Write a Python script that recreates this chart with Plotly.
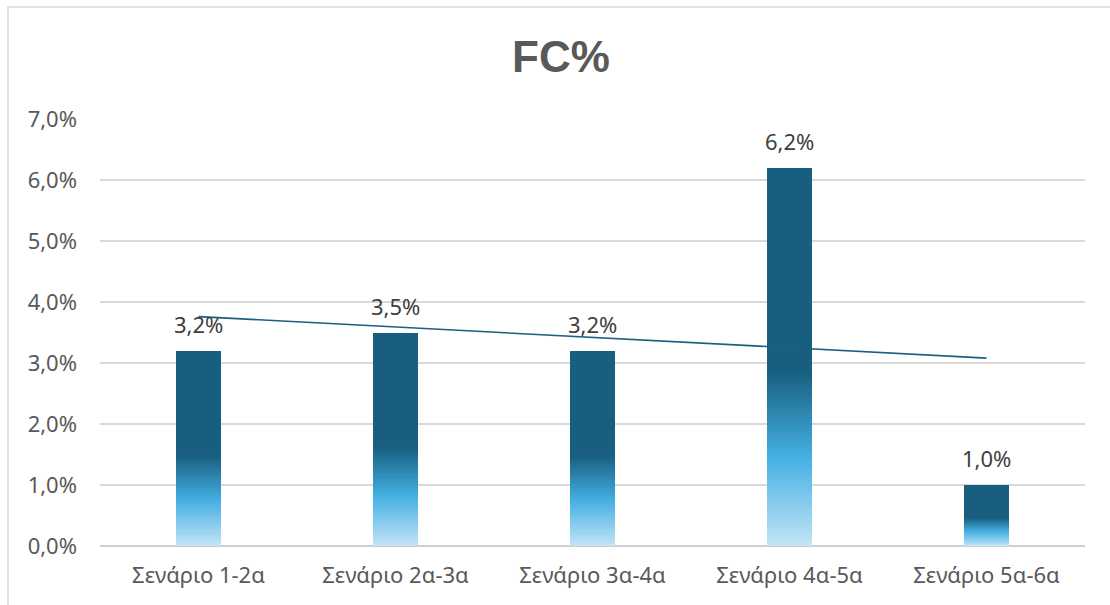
import numpy as np
import plotly.graph_objects as go

# Chart data
categories = ["Σενάριο 1-2α", "Σενάριο 2α-3α", "Σενάριο 3α-4α", "Σενάριο 4α-5α", "Σενάριο 5α-6α"]
fc_values = [3.2, 3.5, 3.2, 6.2, 1.0]          # FC in percent
value_labels = ["3,2%", "3,5%", "3,2%", "6,2%", "1,0%"]
y_ticks = [0, 1, 2, 3, 4, 5, 6, 7]
y_tick_labels = ["0,0%", "1,0%", "2,0%", "3,0%", "4,0%", "5,0%", "6,0%", "7,0%"]

W, H = 1110, 605
L, R, T, B = 100, 25, 119, 59
FONT = "Noto Sans, Arial, sans-serif"

# Vertical gradient stops (fraction of bar height -> colour)
stops = [(0.0, (197, 230, 247)), (0.24, (68, 175, 226)), (0.47, (23, 94, 127)), (1.0, (23, 94, 127))]


def grad_color(f):
    for (f0, c0), (f1, c1) in zip(stops[:-1], stops[1:]):
        if f0 <= f <= f1:
            t = (f - f0) / (f1 - f0) if f1 > f0 else 0
            c = [round(a + (b - a) * t) for a, b in zip(c0, c1)]
            return f"rgb({c[0]},{c[1]},{c[2]})"
    c = stops[-1][1]
    return f"rgb({c[0]},{c[1]},{c[2]})"


fig = go.Figure()

# Gradient bars: overlaid bars of decreasing height, each in the colour of its top
levels = [1.0] + [round(x, 3) for x in np.arange(0.48, 0.0, -0.008)]
vals = np.array(fc_values)
for f in levels:
    fig.add_trace(go.Bar(
        x=categories, y=vals * f, width=0.23,
        marker=dict(color=grad_color(f), line=dict(width=0)),
        hoverinfo="skip", showlegend=False,
    ))

# Linear trend line
idx = np.arange(1, len(fc_values) + 1)
slope, intercept = np.polyfit(idx, vals, 1)
trend = slope * idx + intercept
fig.add_trace(go.Scatter(
    x=categories, y=trend, mode="lines",
    line=dict(color="#1B5F80", width=1.6),
    hoverinfo="skip", showlegend=False,
))

# Value labels above bars
for c, v, lab in zip(categories, fc_values, value_labels):
    fig.add_annotation(x=c, y=v, text=lab, showarrow=False, yanchor="bottom", yshift=10,
                       font=dict(family=FONT, size=22, color="#404040"))

# Chart border (left and top edges visible)
fig.add_shape(type="rect", xref="paper", yref="paper",
              x0=(8 - L) / (W - L - R), x1=(W + 20 - L) / (W - L - R),
              y0=(H - B - 640) / (H - T - B), y1=(H - B - 7) / (H - T - B),
              line=dict(color="#D9D9D9", width=1.5), fillcolor="rgba(0,0,0,0)", layer="below")

fig.update_layout(
    width=W, height=H,
    margin=dict(l=L, r=R, t=T, b=B),
    paper_bgcolor="white", plot_bgcolor="white",
    barmode="overlay", bargap=0,
    title=dict(text="<b>FC%</b>", x=561 / W, xanchor="center", y=1 - 57 / H, yanchor="middle",
               font=dict(family="Liberation Sans, Arial, sans-serif", size=44, color="#595959")),
    font=dict(family=FONT, size=22, color="#595959"),
    xaxis=dict(showgrid=False, showline=False, ticks="", ticklabelstandoff=14,
               tickfont=dict(size=22, color="#595959")),
    yaxis=dict(range=[0, 7], tickvals=y_ticks, ticktext=y_tick_labels, showgrid=True,
               gridcolor="#D9D9D9", gridwidth=1.5, zeroline=True, zerolinecolor="#CFCFCF",
               zerolinewidth=2, showline=False, ticks="", ticklabelstandoff=22,
               tickfont=dict(size=22, color="#595959")),
)

fig.write_html("out.html")
